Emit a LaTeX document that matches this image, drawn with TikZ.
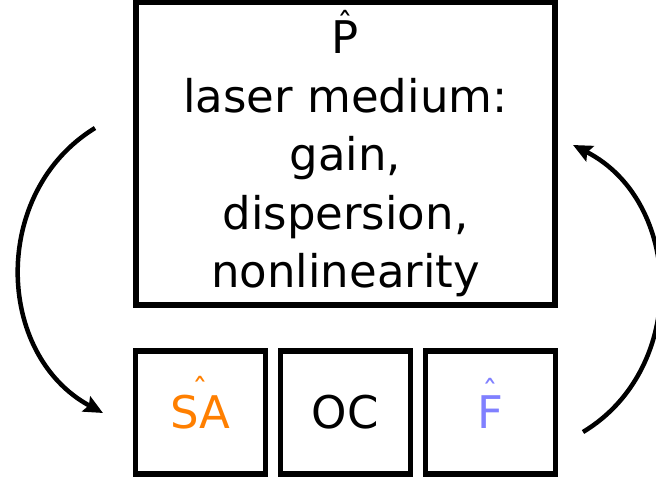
\documentclass[tikz,border=0pt]{standalone}
\usepackage{fontspec}
\setmainfont{DejaVu Sans}
\usepackage{graphicx}
\usetikzlibrary{arrows.meta}
\definecolor{saorange}{RGB}{255,127,0}
\definecolor{fblue}{RGB}{128,128,255}
\newsavebox{\hatbox}
\newcommand{\hatted}[2][0.5em]{\sbox{\hatbox}{#2}\rlap{\makebox[\wd\hatbox]{\smash{\raisebox{#1}{\scalebox{0.7}{\char"02C6}}}}}\usebox{\hatbox}}

\begin{document}
\begin{tikzpicture}[x=1pt, y=-1pt,
        box/.style = {draw, line width=5.5pt, inner sep=0pt, font=\fontsize{45}{58.5}\selectfont},
        small/.style = {box, minimum width=130pt, minimum height=123pt, text height=32pt, text depth=0pt},
        feedback/.style = {line width=4.5pt, -{Stealth[length=19pt,width=17pt,inset=3pt]}, bend right=60, looseness=1.1}]
        \useasboundingbox (0,0) rectangle (656,482);
        \node[box, minimum width=419pt, minimum height=302.5pt, align=center] at (345.5,153.7) (P) {\rule{0pt}{43pt}\hatted[0.4em]{P}\\laser medium:\\gain,\\dispersion,\\nonlinearity};
        \node[small, text=saorange] at (200.7,412.7) (SA) {\hatted[0.61em]{SA}};
        \node[small] at (345.4,412.7) (OC) {OC};
        \node[small, text=fblue] at (490.3,412.7) (F) {\hatted[0.57em]{F}};

        \coordinate (Pout) at (95,128);
        \coordinate (SAin) at (103,413);
        \coordinate (Fout) at (583,432);
        \coordinate (Pin) at (573,145);

        \draw [feedback] (Pout) to (SAin);
        \draw [feedback, bend right=61] (Fout) to (Pin);
        \end{tikzpicture}
\end{document}
